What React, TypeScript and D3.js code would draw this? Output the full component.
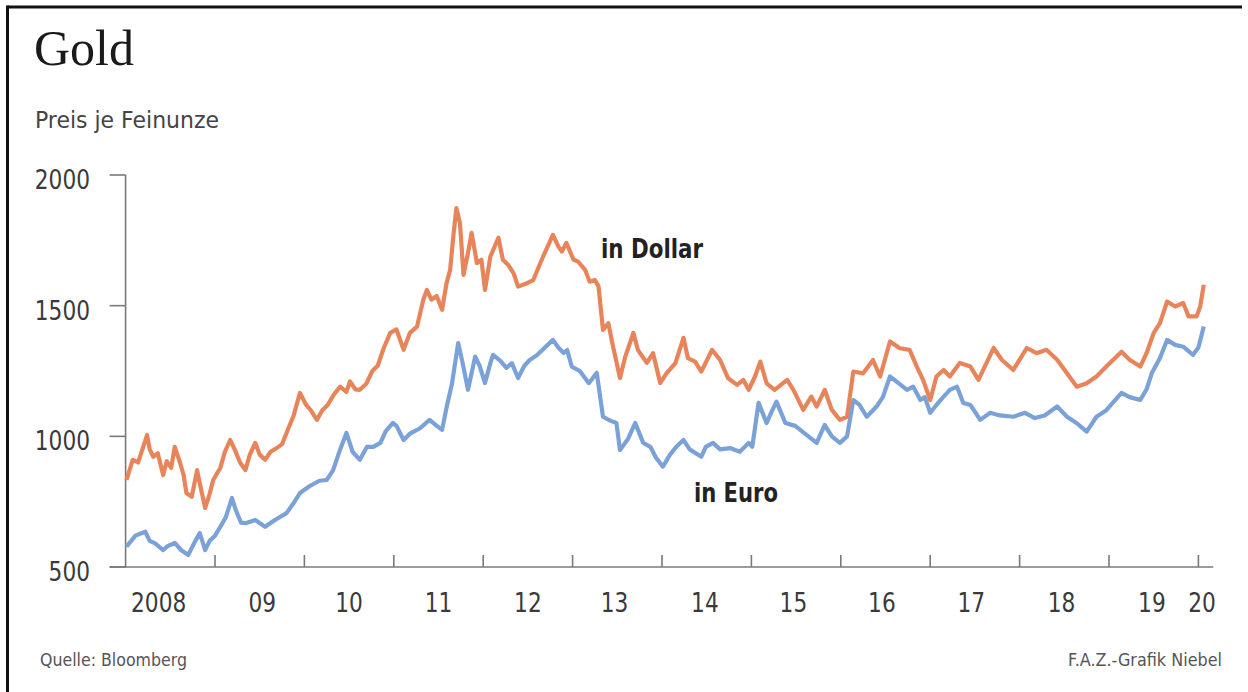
import React from "react";
import * as d3 from "d3";

// Time in decimal years, price per troy ounce
const dollarTimes = [
  2008.01, 2008.08, 2008.14, 2008.24, 2008.27, 2008.31, 2008.36, 2008.42, 2008.46, 2008.51,
  2008.55, 2008.61, 2008.65, 2008.68, 2008.74, 2008.80, 2008.83, 2008.89, 2008.94, 2008.98,
  2009.06, 2009.11, 2009.17, 2009.22, 2009.28, 2009.34, 2009.39, 2009.45, 2009.50, 2009.56,
  2009.62, 2009.69, 2009.75, 2009.82, 2009.88, 2009.95, 2010.02, 2010.07, 2010.14, 2010.20,
  2010.26, 2010.33, 2010.40, 2010.47, 2010.51, 2010.57, 2010.62, 2010.69, 2010.76, 2010.82,
  2010.89, 2010.96, 2011.03, 2011.11, 2011.18, 2011.26, 2011.33, 2011.37, 2011.42, 2011.48,
  2011.54, 2011.59, 2011.63, 2011.67, 2011.70, 2011.74, 2011.78, 2011.83, 2011.87, 2011.93,
  2011.98, 2012.02, 2012.08, 2012.17, 2012.22, 2012.28, 2012.34, 2012.39, 2012.49, 2012.56,
  2012.67, 2012.78, 2012.84, 2012.88, 2012.93, 2013.01, 2013.06, 2013.14, 2013.19, 2013.25,
  2013.29, 2013.34, 2013.40, 2013.44, 2013.53, 2013.59, 2013.68, 2013.73, 2013.83, 2013.90,
  2013.98, 2014.05, 2014.15, 2014.24, 2014.29, 2014.37, 2014.44, 2014.56, 2014.65, 2014.74,
  2014.84, 2014.91, 2014.97, 2015.04, 2015.10, 2015.17, 2015.26, 2015.40, 2015.47, 2015.58,
  2015.67, 2015.73, 2015.82, 2015.90, 2015.99, 2016.07, 2016.14, 2016.25, 2016.36, 2016.44,
  2016.55, 2016.66, 2016.77, 2016.85, 2016.92, 2017.00, 2017.07, 2017.15, 2017.22, 2017.33,
  2017.45, 2017.54, 2017.63, 2017.71, 2017.80, 2017.93, 2018.08, 2018.19, 2018.30, 2018.42,
  2018.53, 2018.64, 2018.75, 2018.86, 2018.97, 2019.14, 2019.23, 2019.35, 2019.42, 2019.50,
  2019.57, 2019.65, 2019.74, 2019.83, 2019.89, 2019.98, 2020.02, 2020.06,
];
const dollarValues = [
  833, 910, 900, 1005, 950, 922, 935, 852, 905, 880,
  960, 898, 850, 783, 769, 871, 820, 726, 780, 833,
  880, 940, 986, 950, 900, 871, 930, 975, 930, 910,
  940, 955, 970, 1030, 1080, 1166, 1120, 1100, 1063, 1100,
  1120, 1160, 1190, 1170, 1210, 1180, 1178, 1200, 1250, 1270,
  1340, 1396, 1409, 1331, 1396, 1420, 1523, 1560, 1523, 1537,
  1484, 1586, 1637, 1779, 1873, 1816, 1618, 1701, 1779, 1663,
  1676, 1560, 1688, 1760, 1676, 1656, 1624, 1573, 1586, 1598,
  1688, 1771, 1727, 1707, 1740, 1676, 1669, 1637, 1592, 1598,
  1573, 1407, 1433, 1363, 1223, 1306, 1396, 1331, 1281, 1318,
  1204, 1241, 1280, 1377, 1299, 1286, 1248, 1331, 1292, 1222,
  1197, 1216, 1178, 1229, 1286, 1203, 1178, 1216, 1178, 1101,
  1152, 1114, 1178, 1101, 1063, 1075, 1248, 1241, 1292, 1229,
  1363, 1337, 1331, 1267, 1216, 1139, 1229, 1254, 1229, 1281,
  1267, 1216, 1281, 1338, 1293, 1254, 1338, 1318, 1331, 1293,
  1241, 1190, 1203, 1229, 1267, 1324, 1293, 1267, 1318, 1396,
  1433, 1516, 1497, 1510, 1459, 1459, 1497, 1580,
];

const euroTimes = [
  2008.01, 2008.11, 2008.22, 2008.27, 2008.33, 2008.42, 2008.47, 2008.55, 2008.62, 2008.70,
  2008.78, 2008.83, 2008.89, 2008.94, 2009.00, 2009.06, 2009.12, 2009.19, 2009.23, 2009.29,
  2009.35, 2009.45, 2009.56, 2009.67, 2009.80, 2009.87, 2009.95, 2010.06, 2010.17, 2010.25,
  2010.32, 2010.40, 2010.47, 2010.54, 2010.62, 2010.70, 2010.77, 2010.85, 2010.91, 2010.99,
  2011.03, 2011.11, 2011.18, 2011.29, 2011.40, 2011.48, 2011.54, 2011.59, 2011.65, 2011.72,
  2011.77, 2011.83, 2011.91, 2011.96, 2012.02, 2012.08, 2012.11, 2012.19, 2012.26, 2012.32,
  2012.39, 2012.46, 2012.52, 2012.60, 2012.69, 2012.78, 2012.84, 2012.90, 2012.94, 2012.99,
  2013.08, 2013.18, 2013.22, 2013.27, 2013.34, 2013.42, 2013.49, 2013.53, 2013.62, 2013.70,
  2013.79, 2013.87, 2013.93, 2014.01, 2014.09, 2014.16, 2014.24, 2014.31, 2014.44, 2014.49,
  2014.57, 2014.65, 2014.76, 2014.87, 2014.97, 2015.01, 2015.08, 2015.17, 2015.22, 2015.28,
  2015.38, 2015.49, 2015.62, 2015.73, 2015.82, 2015.90, 2015.99, 2016.07, 2016.14, 2016.21,
  2016.29, 2016.40, 2016.47, 2016.55, 2016.66, 2016.74, 2016.81, 2016.89, 2016.94, 2017.00,
  2017.07, 2017.15, 2017.22, 2017.30, 2017.37, 2017.45, 2017.56, 2017.67, 2017.78, 2017.93,
  2018.06, 2018.17, 2018.28, 2018.42, 2018.53, 2018.64, 2018.75, 2018.86, 2018.97, 2019.14,
  2019.23, 2019.35, 2019.42, 2019.48, 2019.57, 2019.65, 2019.74, 2019.83, 2019.94, 2020.00,
  2020.06,
];
const euroValues = [
  578, 620, 635, 600, 590, 565, 580, 592, 565, 546,
  600, 630, 565, 600, 620, 654, 690, 764, 720, 670,
  668, 680, 654, 680, 706, 740, 783, 810, 830, 833,
  870, 950, 1013, 940, 910, 960, 960, 975, 1020, 1051,
  1040, 986, 1010, 1030, 1063, 1040, 1025, 1110, 1200, 1357,
  1280, 1178, 1305, 1270, 1204, 1280, 1312, 1290, 1262, 1280,
  1223, 1270, 1292, 1310, 1340, 1369, 1340, 1319, 1330, 1267,
  1250, 1204, 1220, 1243, 1075, 1060, 1051, 948, 990, 1051,
  975, 960, 920, 884, 930, 960, 986, 950, 922, 960,
  975, 950, 955, 941, 975, 960, 1128, 1051, 1090, 1133,
  1051, 1040, 1005, 975, 1044, 1000, 975, 1000, 1139, 1120,
  1075, 1114, 1150, 1229, 1200, 1178, 1190, 1139, 1150, 1090,
  1120, 1152, 1178, 1190, 1128, 1120, 1063, 1090, 1080, 1075,
  1090, 1070, 1080, 1114, 1075, 1050, 1018, 1075, 1100, 1166,
  1150, 1139, 1180, 1243, 1300, 1369, 1350, 1343, 1312, 1340,
  1420,
];

const yTicks = [500, 1000, 1500, 2000];
const yearTicks = [2009, 2010, 2011, 2012, 2013, 2014, 2015, 2016, 2017, 2018, 2019, 2020];
const yearLabels = ["2008", "09", "10", "11", "12", "13", "14", "15", "16", "17", "18", "19", "20"];
const yearLabelPos = [2008.37, 2009.53, 2010.5, 2011.5, 2012.5, 2013.47, 2014.48, 2015.47, 2016.46, 2017.46, 2018.47, 2019.48, 2020.04];

const W = 1248;
const H = 692;
const SANS = "'DejaVu Sans', 'Noto Sans', sans-serif";
const DIGIT_W = 13.8;

export default function App() {
  const x = d3.scaleLinear().domain([2008, 2020.2]).range([125.6, 125.6 + 12.2 * 89.4]);
  const y = d3.scaleLinear().domain([500, 2000]).range([567, 175]);

  const dollar = dollarTimes.map((t, i) => [t, dollarValues[i]] as [number, number]);
  const euro = euroTimes.map((t, i) => [t, euroValues[i]] as [number, number]);
  const line = d3
    .line<[number, number]>()
    .x((d) => x(d[0]))
    .y((d) => y(d[1]));

  const axisColor = "#7a7a7a";
  const textColor = "#3a3a3a";
  const x0 = x(2008);
  const baseY = y(500);

  return (
    <>
      <style>{`body{margin:0;}`}</style>
      <svg width={W} height={H} style={{ display: "block", background: "#fff" }}>
        {/* frame */}
        <line x1={7.5} y1={7} x2={1242} y2={7} stroke="#111" strokeWidth={3} />
        <line x1={7.5} y1={5.5} x2={7.5} y2={H} stroke="#111" strokeWidth={3} />

        {/* titles */}
        <text x={34} y={65} fontFamily="'Liberation Serif', 'DejaVu Serif', serif" fontSize={50} fill="#1a1a1a">
          Gold
        </text>
        <text x={35} y={128} fontFamily={SANS} fontSize={23} fill="#444" textLength={184} lengthAdjust="spacingAndGlyphs">
          Preis je Feinunze
        </text>

        {/* y axis */}
        <line x1={x0} y1={y(2000)} x2={x0} y2={baseY} stroke={axisColor} strokeWidth={1.6} />
        {yTicks.map((v) => (
          <g key={v}>
            <line x1={x0 - 16} x2={x0} y1={y(v)} y2={y(v)} stroke={axisColor} strokeWidth={1.6} />
            <text
              x={90}
              y={y(v) + 14}
              textAnchor="end"
              fontFamily={SANS}
              fontSize={26}
              fill={textColor}
              textLength={String(v).length * DIGIT_W}
              lengthAdjust="spacingAndGlyphs"
            >
              {v}
            </text>
          </g>
        ))}

        {/* x axis */}
        <line x1={x0 - 16} x2={x(2020.2) - 3} y1={baseY} y2={baseY} stroke={axisColor} strokeWidth={1.6} />
        {yearTicks.map((t) => (
          <line key={t} x1={x(t)} x2={x(t)} y1={baseY} y2={baseY - 12} stroke={axisColor} strokeWidth={1.6} />
        ))}
        {yearLabels.map((l, i) => (
          <text
            key={l}
            x={x(yearLabelPos[i])}
            y={612}
            textAnchor="middle"
            fontFamily={SANS}
            fontSize={26}
            fill={textColor}
            textLength={l.length * DIGIT_W}
            lengthAdjust="spacingAndGlyphs"
          >
            {l}
          </text>
        ))}

        {/* series */}
        <path d={line(euro) ?? ""} fill="none" stroke="#7ba2d8" strokeWidth={4.2} strokeLinejoin="round" />
        <path d={line(dollar) ?? ""} fill="none" stroke="#e8845a" strokeWidth={4.2} strokeLinejoin="round" />

        {/* annotations */}
        <text x={601} y={258} fontFamily={SANS} fontSize={26} fontWeight={700} fill="#222" textLength={102} lengthAdjust="spacingAndGlyphs">
          in Dollar
        </text>
        <text x={694} y={502} fontFamily={SANS} fontSize={26} fontWeight={700} fill="#222" textLength={84} lengthAdjust="spacingAndGlyphs">
          in Euro
        </text>

        {/* footer */}
        <text x={40} y={666} fontFamily={SANS} fontSize={17} fill="#555" textLength={147} lengthAdjust="spacingAndGlyphs">
          Quelle: Bloomberg
        </text>
        <text x={1068} y={666} fontFamily={SANS} fontSize={17} fill="#555" textLength={154} lengthAdjust="spacingAndGlyphs">
          F.A.Z.-Grafik Niebel
        </text>
      </svg>
    </>
  );
}
